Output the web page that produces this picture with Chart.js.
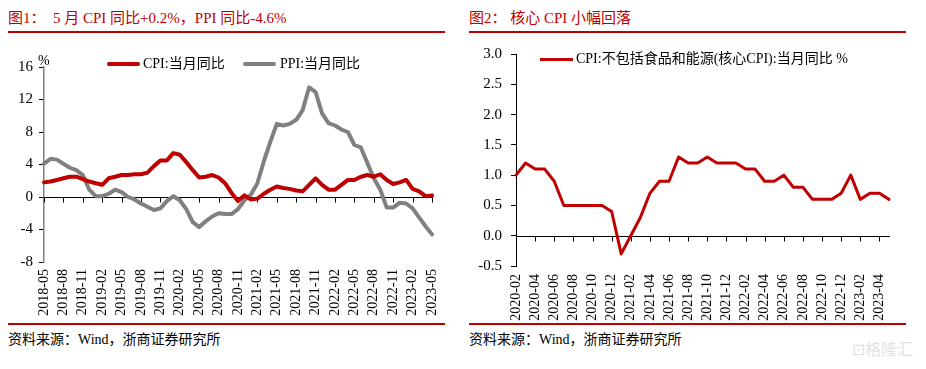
<!DOCTYPE html>
<html><head><meta charset="utf-8">
<script src="https://cdn.jsdelivr.net/npm/chart.js@4.4.0/dist/chart.umd.min.js"></script>
<style>
body{margin:0;width:926px;height:369px;background:#fff;position:relative;overflow:hidden;font-family:"Liberation Serif","Noto Sans CJK SC",serif;}
.t{position:absolute;font-size:15px;color:#C00000;white-space:pre;line-height:1;}
.hl{position:absolute;height:2px;background:#C00000;}
.src{position:absolute;font-size:14px;color:#000;white-space:pre;line-height:1;}
.lg{position:absolute;font-size:14px;color:#000;white-space:pre;line-height:1;}
.sw{position:absolute;}
canvas{position:absolute;}
.wm{position:absolute;font-family:"Noto Sans CJK SC",sans-serif;font-size:16px;color:#e2e2e2;line-height:1;white-space:pre;}
</style></head>
<body>
<div class="t" style="left:8px;top:11px">图1：  5 月 CPI 同比+0.2%，PPI 同比-4.6%</div>
<div class="hl" style="left:8px;top:31px;width:437px"></div>
<div class="t" style="left:469px;top:11px">图2： 核心 CPI 小幅回落</div>
<div class="hl" style="left:469px;top:31px;width:437px"></div>

<canvas id="c1" width="463" height="286" style="left:0;top:36px"></canvas>
<canvas id="c2" width="463" height="286" style="left:463px;top:36px"></canvas>

<div class="lg" style="left:38px;top:54px">%</div>
<div class="sw" style="left:107px;top:62px;width:33px;height:4px;background:#C00000;border-radius:2px"></div>
<div class="lg" style="left:143px;top:57px">CPI:当月同比</div>
<div class="sw" style="left:243px;top:62px;width:33px;height:4px;background:#808080;border-radius:2px"></div>
<div class="lg" style="left:280px;top:57px">PPI:当月同比</div>

<div class="sw" style="left:540px;top:58px;width:33px;height:3px;background:#C00000"></div>
<div class="lg" style="left:576px;top:52px">CPI:不包括食品和能源(核心CPI):当月同比 %</div>

<div class="hl" style="left:8px;top:323px;width:437px"></div>
<div class="src" style="left:8px;top:333px">资料来源：Wind，浙商证券研究所</div>
<div class="hl" style="left:469px;top:323px;width:437px"></div>
<div class="src" style="left:469px;top:333px">资料来源：Wind，浙商证券研究所</div>
<div class="wm" style="left:852px;top:340px">⊡格隆汇</div>

<script>
const months1 = ["2018-05","2018-06","2018-07","2018-08","2018-09","2018-10","2018-11","2018-12",
"2019-01","2019-02","2019-03","2019-04","2019-05","2019-06","2019-07","2019-08","2019-09","2019-10","2019-11","2019-12",
"2020-01","2020-02","2020-03","2020-04","2020-05","2020-06","2020-07","2020-08","2020-09","2020-10","2020-11","2020-12",
"2021-01","2021-02","2021-03","2021-04","2021-05","2021-06","2021-07","2021-08","2021-09","2021-10","2021-11","2021-12",
"2022-01","2022-02","2022-03","2022-04","2022-05","2022-06","2022-07","2022-08","2022-09","2022-10","2022-11","2022-12",
"2023-01","2023-02","2023-03","2023-04","2023-05"];
const cpiYoY = [1.8,1.9,2.1,2.3,2.5,2.5,2.2,1.9,
1.7,1.5,2.3,2.5,2.7,2.7,2.8,2.8,3.0,3.8,4.5,4.5,
5.4,5.2,4.3,3.3,2.4,2.5,2.7,2.4,1.7,0.5,-0.5,0.2,
-0.3,-0.2,0.4,0.9,1.3,1.1,1.0,0.8,0.7,1.5,2.3,1.5,
0.9,0.9,1.5,2.1,2.1,2.5,2.7,2.5,2.8,2.1,1.6,1.8,
2.1,1.0,0.7,0.1,0.2];
const ppiYoY = [4.1,4.7,4.6,4.1,3.6,3.3,2.7,0.9,
0.1,0.1,0.4,0.9,0.6,0.0,-0.3,-0.8,-1.2,-1.6,-1.4,-0.5,
0.1,-0.4,-1.5,-3.1,-3.7,-3.0,-2.4,-2.0,-2.1,-2.1,-1.5,-0.4,
0.3,1.7,4.4,6.8,9.0,8.8,9.0,9.5,10.7,13.5,12.9,10.3,
9.1,8.8,8.3,8.0,6.4,6.1,4.2,2.3,0.9,-1.3,-1.3,-0.7,
-0.8,-1.4,-2.5,-3.6,-4.6];
const yTicks1 = {min:-8, max:16, step:4};

const months2 = ["2020-02","2020-03","2020-04","2020-05","2020-06","2020-07","2020-08","2020-09","2020-10","2020-11","2020-12",
"2021-01","2021-02","2021-03","2021-04","2021-05","2021-06","2021-07","2021-08","2021-09","2021-10","2021-11","2021-12",
"2022-01","2022-02","2022-03","2022-04","2022-05","2022-06","2022-07","2022-08","2022-09","2022-10","2022-11","2022-12",
"2023-01","2023-02","2023-03","2023-04","2023-05"];
const coreCpiYoY = [1.0,1.2,1.1,1.1,0.9,0.5,0.5,0.5,0.5,0.5,0.4,
-0.3,0.0,0.3,0.7,0.9,0.9,1.3,1.2,1.2,1.3,1.2,1.2,
1.2,1.1,1.1,0.9,0.9,1.0,0.8,0.8,0.6,0.6,0.6,0.7,
1.0,0.6,0.7,0.7,0.6];
const yTicks2 = {min:-0.5, max:3.0, step:0.5};

const RED = '#C00000', GRAY = '#808080';
const FONT = '"Liberation Serif","Noto Sans CJK SC",serif';

const zeroAxis = {
  id:'zeroAxis',
  beforeDatasetsDraw(chart, args, opts){
    const {ctx, chartArea, scales} = chart;
    const x = scales.x, y = scales.y;
    const y0 = Math.round(y.getPixelForValue(0)) + 0.5;
    ctx.save();
    ctx.strokeStyle = '#000'; ctx.lineWidth = 1;
    ctx.beginPath();
    ctx.moveTo(chartArea.left, y0); ctx.lineTo(chartArea.right + 1, y0);
    const n = chart.data.labels.length;
    for (let i = 0; i < n; i += opts.step){
      const px = Math.round(x.getPixelForValue(i)) + 0.5;
      ctx.moveTo(px, y0); ctx.lineTo(px, y0 + 5);
    }
    ctx.stroke();
    ctx.restore();
  }
};

function makeChart(id, labels, datasets, yt, cfg){
  return new Chart(document.getElementById(id), {
    type:'line',
    data:{labels, datasets},
    plugins:[zeroAxis],
    options:{
      responsive:false, animation:false, devicePixelRatio:1,
      layout:{padding:{top:cfg.top, right:cfg.right, left:0, bottom:0}},
      plugins:{legend:{display:false}, tooltip:{enabled:false}, zeroAxis:{step:cfg.step}},
      elements:{point:{radius:0}, line:{tension:0, borderJoinStyle:'round', borderCapStyle:'round'}},
      scales:{
        x:{
          type:'category', offset:false,
          grid:{display:false, drawTicks:false},
          border:{display:false},
          ticks:{autoSkip:false, maxRotation:90, minRotation:90, padding:cfg.xpad, color:'#000',
            font:{family:FONT, size:14},
            callback:(v,i)=> i % cfg.step === 0 ? labels[i] : ''},
          afterFit:(s)=>{ s.height = cfg.xh; }
        },
        y:{
          min:yt.min, max:yt.max,
          grid:{display:true, drawOnChartArea:false, drawTicks:true, tickLength:5, color:'#000'},
          border:{display:true, color:cfg.axisColor, width:cfg.axisWidth},
          ticks:{stepSize:yt.step, padding:cfg.ypad, color:'#000', font:{family:FONT, size:15},
            callback:cfg.fmt},
          afterFit:(s)=>{ s.width = cfg.yw; }
        }
      }
    }
  });
}

makeChart('c1', months1, [
  {label:'CPI:当月同比', data:cpiYoY, borderColor:RED, borderWidth:4, clip:false},
  {label:'PPI:当月同比', data:ppiYoY, borderColor:GRAY, borderWidth:4, clip:false}
], yTicks1, {top:31, right:31, xh:60, yw:44, xpad:7, ypad:6, step:3, axisColor:'#808080', axisWidth:1.5,
  fmt:(v)=>String(v)});

makeChart('c2', months2, [
  {label:'CPI:不包括食品和能源(核心CPI):当月同比 %', data:coreCpiYoY, borderColor:RED, borderWidth:3, clip:false}
], yTicks2, {top:8, right:37, xh:56, yw:53, xpad:8, ypad:9, step:2, axisColor:'#000', axisWidth:1,
  fmt:(v)=>Number(v).toFixed(1)});
</script>
</body></html>
